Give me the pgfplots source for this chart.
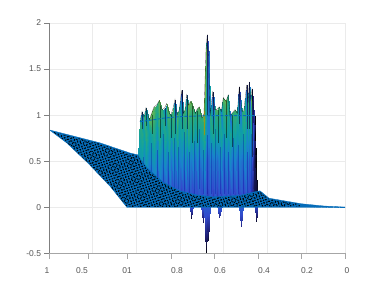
\documentclass[border=0pt]{standalone}
\usepackage{fontspec}
\setmainfont{Liberation Sans}
\usepackage{pgfplots}
\pgfplotsset{compat=1.18}
\usetikzlibrary{patterns.meta}
\definecolor{plate}{RGB}{5,108,185}
\definecolor{gridc}{RGB}{235,235,235}
\definecolor{txt}{RGB}{85,85,85}
\begin{document}
\begin{tikzpicture}
\useasboundingbox (-49.5bp,-32.5bp) rectangle (332.5bp,253.5bp);
\begin{axis}[
  at={(0,0)}, anchor=south west,
  scale only axis, width=295.5bp, height=230.5bp,
  xmin=49.5, xmax=345, ymin=-0.5, ymax=2,
  clip=false,
  axis line style={gridc, line width=0.7pt},
  tick align=outside,
  xtick pos=bottom, ytick pos=left,
  ytick={-0.5,0,0.5,1,1.5,2},
  yticklabels={-0.5,0,0.5,1,1.5,2},
  ymajorgrids, grid style={gridc, line width=0.7pt},
  y tick style={draw=gray, line width=0.6pt},
  major tick length=5bp,
  xtick={49.5,82,127,177,220,264,307,345},
  xticklabels={1\kern5bp,0.5,01,0.8,0.6,0.4,0.2,\kern4bp 0},
  x tick style={draw=none},
  tick label style={font=\fontsize{8.5}{10}\selectfont, text=txt},
  xticklabel style={yshift=-6bp},
  /pgf/number format/assume math mode=true,
  colormap={wall}{rgb255(0cm)=(0,0,0); rgb255(1.2cm)=(30,30,115); rgb255(2.5cm)=(50,75,205); rgb255(4.5cm)=(25,130,205); rgb255(6.5cm)=(15,160,165); rgb255(8.5cm)=(45,170,120); rgb255(10cm)=(120,185,70)},
  point meta min=0, point meta max=1,
]
% grid on the back wall
\addplot[gridc, line width=0.7pt, unbounded coords=jump, forget plot] coordinates {(92.7,-0.5)(92.7,2)(nan,nan)(136,-0.5)(136,2)(nan,nan)(180,-0.5)(180,2)(nan,nan)(223,-0.5)(223,2)(nan,nan)(267,-0.5)(267,2)(nan,nan)(306,-0.5)(306,2)};
% downward spikes
\addplot[patch, shader=interp, point meta=explicit, forget plot] table[row sep=\\, meta=m] {
x y m\\
189.5 0.03 .3\\ 192.5 0.03 .3\\ 191 -0.12 .05\\
201 0.03 .3\\ 205 0.03 .3\\ 203 -0.16 .08\\
203.5 0.03 .33\\ 207.5 0.03 .33\\ 206 -0.5 0\\
206 0.03 .33\\ 210 0.03 .33\\ 208 -0.35 .05\\
216.5 0.03 .33\\ 221.5 0.03 .33\\ 219 -0.1 .15\\
239 0.03 .33\\ 243 0.03 .33\\ 241 -0.2 .15\\
254.5 0.03 .25\\ 257.5 0.03 .25\\ 256 -0.15 .05\\
};
% wall
\addplot[surf, shader=interp, point meta=explicit, mesh/ordering=y varies, mesh/rows=4, forget plot] table[row sep=\\, meta=m] {
x y m\\
138 .1 .2\\ 138.5 .5 .55\\ 139 .8 .7\\ 140 .93 .85\\
142 .1 .15\\ 142 .5 .6\\ 142 .8 .8\\ 142 1.04 .3\\
144 .1 .25\\ 144 .5 .5\\ 144 .8 .65\\ 144 .98 .9\\
146 .1 .22\\ 146 .5 .62\\ 146 .8 .85\\ 146 1.08 .5\\
149.3 .1 .3\\ 149.3 .5 .45\\ 149.3 .8 .62\\ 149.3 .95 .95\\
154 .1 .18\\ 154 .5 .6\\ 154 .8 .8\\ 154 1.09 .95\\
156.7 .1 .28\\ 156.7 .5 .4\\ 156.7 .8 .55\\ 156.7 1.11 .8\\
159.3 .1 .2\\ 159.3 .5 .58\\ 159.3 .8 .82\\ 159.3 1.16 .98\\
162 .1 .3\\ 162 .5 .45\\ 162 .8 .6\\ 162 1.06 .85\\
164.7 .1 .2\\ 164.7 .5 .55\\ 164.7 .8 .78\\ 164.7 1.08 .4\\
166.7 .1 .28\\ 166.7 .5 .42\\ 166.7 .8 .66\\ 166.7 1.125 .95\\
169.3 .1 .15\\ 169.3 .5 .58\\ 169.3 .8 .8\\ 169.3 1.02 .9\\
170.7 .1 .3\\ 170.7 .5 .4\\ 170.7 .8 .6\\ 170.7 1 .75\\
172.7 .1 .2\\ 172.7 .5 .52\\ 172.7 .8 .8\\ 172.7 1.06 .95\\
175 .1 .28\\ 175 .5 .4\\ 175 .8 .62\\ 175 1.17 .2\\
177 .1 .22\\ 177 .5 .55\\ 177 .8 .82\\ 177 1 .95\\
179.3 .1 .3\\ 179.3 .5 .42\\ 179.3 .8 .6\\ 179.3 1.06 .8\\
181.7 .1 .18\\ 181.7 .5 .5\\ 181.7 .8 .72\\ 181.7 1.27 .1\\
183.3 .1 .28\\ 183.3 .5 .4\\ 183.3 .8 .62\\ 183.3 1.02 .85\\
185 .1 .2\\ 185 .5 .55\\ 185 .8 .8\\ 185 1.06 .9\\
186.7 .1 .3\\ 186.7 .5 .38\\ 186.7 .8 .6\\ 186.7 1.22 .4\\
188.3 .1 .2\\ 188.3 .5 .5\\ 188.3 .8 .82\\ 188.3 1.11 .98\\
190.7 .1 .26\\ 190.7 .5 .42\\ 190.7 .8 .65\\ 190.7 1.15 .95\\
193.3 .1 .2\\ 193.3 .5 .5\\ 193.3 .8 .78\\ 193.3 1.09 .92\\
195.3 .1 .28\\ 195.3 .5 .36\\ 195.3 .8 .6\\ 195.3 1.02 .8\\
197.3 .1 .22\\ 197.3 .5 .48\\ 197.3 .8 .72\\ 197.3 1.07 .9\\
199.3 .1 .3\\ 199.3 .5 .38\\ 199.3 .8 .62\\ 199.3 1.09 .95\\
202 .1 .22\\ 202 .5 .45\\ 202 .8 .7\\ 202 .97 .85\\
204 .1 .3\\ 204 .5 .55\\ 204 .8 .85\\ 204 1.02 1\\
206 .1 .25\\ 206 .5 .35\\ 206 .8 .55\\ 206 1.71 .98\\
207.3 .1 .2\\ 207.3 .5 .3\\ 207.3 .8 .5\\ 207.3 1.875 .2\\
208.7 .1 .25\\ 208.7 .5 .35\\ 208.7 .8 .45\\ 208.7 1.64 .4\\
210 .1 .3\\ 210 .5 .42\\ 210 .8 .65\\ 210 .99 .85\\
212.7 .1 .2\\ 212.7 .5 .38\\ 212.7 .8 .75\\ 212.7 1.25 .15\\
214.7 .1 .28\\ 214.7 .5 .45\\ 214.7 .8 .7\\ 214.7 1.06 .88\\
216.7 .1 .2\\ 216.7 .5 .35\\ 216.7 .8 .66\\ 216.7 1.06 .92\\
219.3 .1 .28\\ 219.3 .5 .45\\ 219.3 .8 .62\\ 219.3 1.09 .85\\
221.3 .1 .2\\ 221.3 .5 .5\\ 221.3 .8 .75\\ 221.3 1.04 .45\\
223.3 .1 .3\\ 223.3 .5 .36\\ 223.3 .8 .6\\ 223.3 1.19 .92\\
226 .1 .22\\ 226 .5 .46\\ 226 .8 .72\\ 226 1.15 .98\\
228.3 .1 .3\\ 228.3 .5 .38\\ 228.3 .8 .6\\ 228.3 1.22 .75\\
230 .1 .2\\ 230 .5 .5\\ 230 .8 .75\\ 230 .99 .3\\
232 .1 .28\\ 232 .5 .4\\ 232 .8 .62\\ 232 1.02 .85\\
235 .1 .2\\ 235 .5 .46\\ 235 .8 .7\\ 235 1.06 .9\\
237.3 .1 .3\\ 237.3 .5 .35\\ 237.3 .8 .6\\ 237.3 1.02 .8\\
239.3 .1 .2\\ 239.3 .5 .44\\ 239.3 .8 .68\\ 239.3 1.31 .1\\
242 .1 .28\\ 242 .5 .38\\ 242 .8 .62\\ 242 1.04 .8\\
244 .1 .2\\ 244 .5 .48\\ 244 .8 .72\\ 244 1.06 .9\\
246.7 .1 .3\\ 246.7 .5 .36\\ 246.7 .8 .5\\ 246.7 1.33 .15\\
248 .1 .2\\ 248 .5 .4\\ 248 .8 .66\\ 248 1.13 .85\\
249.3 .1 .25\\ 249.3 .5 .3\\ 249.3 .8 .55\\ 249.3 1.36 .2\\
250.7 .1 .2\\ 250.7 .5 .42\\ 250.7 .8 .65\\ 250.7 1.17 .98\\
252 .1 .15\\ 252 .5 .25\\ 252 .8 .4\\ 252 1.28 .1\\
254 .1 .08\\ 254 .5 .1\\ 254 .8 .15\\ 254 .99 .2\\
257 .1 .05\\ 256 .5 0\\ 255 .8 0\\ 254.5 .99 0\\
};
% blue-violet streaks in the lower wall
\addplot[blue!60!black, opacity=.3, line width=0.6pt, unbounded coords=jump, forget plot] coordinates {
(143,.2)(143,.55)(nan,nan)(151,.2)(151,.7)(nan,nan)(157,.2)(157,.62)(nan,nan)(163,.15)(163,.8)(nan,nan)(168,.2)(168,.6)(nan,nan)(174,.15)(174,.75)(nan,nan)(178.5,.2)(178.5,.66)(nan,nan)(184,.15)(184,.82)(nan,nan)(189,.15)(189,.6)(nan,nan)(194,.15)(194,.72)(nan,nan)(199,.2)(199,.85)(nan,nan)(203,.15)(203,.62)(nan,nan)(207,.15)(207,.78)(nan,nan)(211,.15)(211,.7)(nan,nan)(215,.15)(215,.85)(nan,nan)(220,.15)(220,.65)(nan,nan)(224,.15)(224,.8)(nan,nan)(228,.15)(228,.6)(nan,nan)(233,.15)(233,.75)(nan,nan)(238,.15)(238,.68)(nan,nan)(243,.15)(243,.8)(nan,nan)(247.5,.15)(247.5,.6)(nan,nan)(251,.15)(251,.8)
};
% dark streaks
\addplot[black, opacity=.5, line width=0.4pt, unbounded coords=jump, forget plot] coordinates {
(142,1.04)(142,.85)(nan,nan)(146,1.08)(146,.88)(nan,nan)(152,1.0)(152,.8)(nan,nan)(160,1.1)(160,.75)(nan,nan)(164.7,1.08)(164.7,.88)(nan,nan)(171,1)(171,.75)(nan,nan)(175,1.17)(175,.8)(nan,nan)(181.7,1.27)(181.7,.85)(nan,nan)(186.7,1.22)(186.7,.85)(nan,nan)(192,1.1)(192,.7)(nan,nan)(197,1.05)(197,.7)(nan,nan)(207.3,1.875)(207.3,1.0)(nan,nan)(212.7,1.25)(212.7,.8)(nan,nan)(218,1.06)(218,.7)(nan,nan)(226,1.15)(226,.75)(nan,nan)(232,1)(232,.65)(nan,nan)(239.3,1.31)(239.3,.9)(nan,nan)(246.7,1.33)(246.7,.85)(nan,nan)(249.3,1.36)(249.3,.85)(nan,nan)(252,1.28)(252,.55)
};
% olive streak beside the tallest peak
\addplot[olive!70!orange, opacity=.75, line width=0.7pt, forget plot] coordinates {(204,.78)(204,1.05)};
% skyline
\addplot[black, opacity=.65, line width=0.35pt, forget plot] coordinates {
(140,.93)(142,1.04)(144,.98)(146,1.08)(149.3,.95)(154,1.09)(156.7,1.11)(159.3,1.16)(162,1.06)(164.7,1.08)(166.7,1.125)(169.3,1.02)(170.7,1)(172.7,1.06)(175,1.17)(177,1)(179.3,1.06)(181.7,1.27)(183.3,1.02)(185,1.06)(186.7,1.22)(188.3,1.11)(190.7,1.15)(193.3,1.09)(195.3,1.02)(197.3,1.07)(199.3,1.09)(202,.97)(204,1.02)(206,1.71)(207.3,1.875)(208.7,1.64)(210,.99)(212.7,1.25)(214.7,1.06)(216.7,1.06)(219.3,1.09)(221.3,1.04)(223.3,1.19)(226,1.15)(228.3,1.22)(230,.99)(232,1.02)(235,1.06)(237.3,1.02)(239.3,1.31)(242,1.04)(244,1.06)(246.7,1.33)(248,1.13)(249.3,1.36)(250.7,1.17)(252,1.28)(254,.99)
};
% dashed line along the top of the wall
\addplot[plate, line width=0.9pt, dash pattern=on 3pt off 1.5pt, forget plot] coordinates {(140,.93)(150,.945)(165,.97)(180,.985)(207,.995)(255,.995)};
% plate
\addplot[fill=plate, draw=plate, line width=0.3pt, forget plot] coordinates {
(49.5,.84)(100,.70)(130,.59)(138,.57)(140,.53)(147,.43)(163,.275)(180,.18)(197,.135)(213,.115)(240,.13)(255,.17)(260,.18)(269,.10)(301,.04)(324,.015)(345,.003)(345,0)(127,0)(110,.23)(88,.48)(66.7,.70)(49.5,.84)
} \closedcycle;
\addplot[draw=none, pattern={Dots[distance=2.7pt, radius=0.8pt, angle=18]}, pattern color=black, forget plot] coordinates {
(53,.82)(100,.69)(130,.58)(138,.56)(140,.52)(147,.42)(163,.265)(180,.17)(197,.125)(213,.105)(240,.12)(255,.16)(260,.17)(269,.09)(300,.035)(300,.012)(127,.005)(110,.235)(88,.485)(66.7,.705)(53,.82)
};
\addplot[draw=none, pattern={Dots[distance=3.3pt, radius=0.75pt, angle=63]}, pattern color=black, forget plot] coordinates {
(53,.82)(100,.69)(130,.58)(138,.56)(140,.52)(147,.42)(163,.265)(180,.17)(197,.125)(213,.105)(240,.12)(255,.16)(260,.17)(269,.09)(290,.05)(290,.012)(127,.005)(110,.235)(88,.485)(66.7,.705)(53,.82)
};
\addplot[plate, line width=1pt, dash pattern=on 5pt off 1pt, forget plot] coordinates {(310,.008)(345,0)};
% left and bottom spines, tick marks of the lower axis
\addplot[gray, line width=0.8pt, forget plot] coordinates {(49.5,2)(49.5,-0.5)};
\addplot[gray!70, line width=0.8pt, forget plot] coordinates {(49.5,-0.5)(345,-0.5)};
\addplot[gray!70, line width=0.8pt, unbounded coords=jump, forget plot] coordinates {(49.5,-.5)(49.5,-.56)(nan,nan)(88,-.5)(88,-.56)(nan,nan)(127,-.5)(127,-.56)(nan,nan)(171,-.5)(171,-.56)(nan,nan)(214.6,-.5)(214.6,-.56)(nan,nan)(258,-.5)(258,-.56)(nan,nan)(301,-.5)(301,-.56)(nan,nan)(345,-.5)(345,-.56)};
\end{axis}
\end{tikzpicture}
\end{document}
